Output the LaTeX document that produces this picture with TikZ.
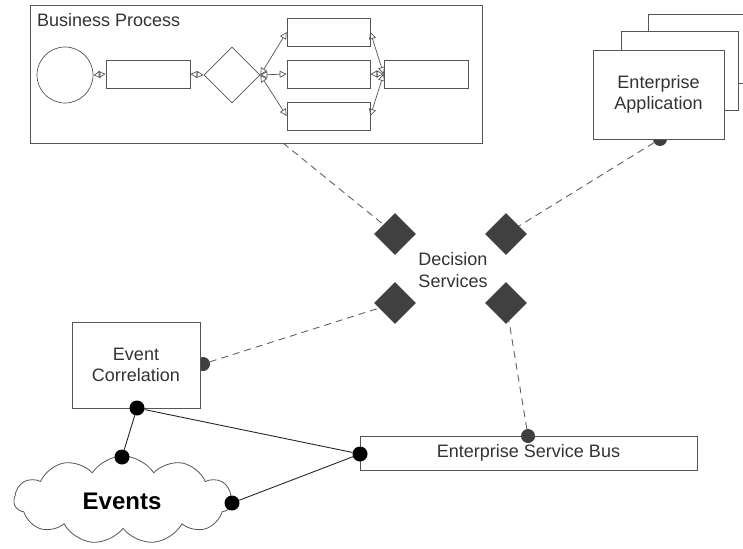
\documentclass[tikz,border=0pt]{standalone}
\usepackage{fontspec}
\setmainfont{Liberation Sans}
\usetikzlibrary{shapes.geometric,shapes.symbols,arrows.meta}

\definecolor{edge}{HTML}{555555}
\definecolor{ink}{HTML}{333333}
\definecolor{knob}{HTML}{404040}

\tikzset{
  box/.style={draw=edge, line width=0.9pt, fill=white, inner sep=0pt, text=ink},
  small/.style={box, line width=0.7pt, minimum width=#1, minimum height=28pt},
  label/.style={text=ink, font=\fontsize{18}{21.5}\selectfont, align=center, inner sep=0pt},
  flow/.style={draw=edge, line width=0.7pt,
    {Triangle[open,length=7pt,width=7pt]}-{Triangle[open,length=7pt,width=7pt]}},
  decision/.style={diamond, fill=knob, inner sep=0pt, minimum width=42pt, minimum height=42pt},
  link/.style={draw=gray!75!black, line width=0.9pt, dash pattern=on 7pt off 5pt},
  wire/.style={draw=black!85, line width=0.9pt},
  bdot/.style={circle, fill=black, inner sep=0pt, minimum size=15pt},
  gdot/.style={circle, fill=knob, inner sep=0pt, minimum size=14pt},
}

\begin{document}
\begin{tikzpicture}[x=1pt, y=-1pt]
\useasboundingbox (0,0) rectangle (743,548);

% ---- business process frame and its flow ----
\node[box, minimum width=452pt, minimum height=138pt] (bp) at (256,74) {};
\node[label, anchor=base west] (bptitle) at (37,27) {Business Process};
\node[circle, draw=edge, line width=0.7pt, inner sep=0pt, minimum size=56pt] (start) at (65,75) {};
\node[small=84pt] (task1) at (148,74) {};
\node[diamond, draw=edge, line width=0.7pt, inner sep=0pt, minimum width=56pt, minimum height=56pt] (gate) at (232,75) {};
\node[small=83pt] (ta) at (328.5,32) {};
\node[small=83pt] (tb) at (328.5,74) {};
\node[small=83pt] (tc) at (328.5,116) {};
\node[small=84pt] (join) at (426,74) {};

\draw[flow] (start.east) -- (task1.west);
\draw[flow] (task1.east) -- (gate.west);
\draw[flow] (gate.east) -- (ta.west);
\draw[flow] (gate.east) -- (tb.west);
\draw[flow] (gate.east) -- (tc.west);
\draw[flow] (ta.east) -- (join.west);
\draw[flow] (tb.east) -- (join.west);
\draw[flow] (tc.east) -- (join.west);

% ---- decision services ----
\node[decision] (d1) at (395,234) {};
\node[decision] (d2) at (506,234) {};
\node[decision] (d3) at (395,303) {};
\node[decision] (d4) at (506,303) {};
\node[label] (ds) at (453,270) {Decision\\Services};

% ---- dashed service links ----
\coordinate (bpout) at (283,143);
\node[gdot] (eadot) at (660,139) {};
\node[gdot] (ecgdot) at (203,364) {};
\draw[link] (bpout) -- (d1);
\draw[link] (eadot) -- (d2);
\draw[link] (ecgdot) -- (d3);

% ---- enterprise application stack ----
\node[box, minimum width=105pt, minimum height=69pt] (ea3) at (700.5,48.5) {};
\node[box, minimum width=117pt, minimum height=79pt] (ea2) at (679.5,71) {};
\node[box, minimum width=131pt, minimum height=89pt, label] (ea) at (658.5,94.5) {Enterprise\\Application};

% ---- event correlation and the bus ----
\node[box, minimum width=128pt, minimum height=86pt, label] (ec) at (136,365) {Event\\Correlation};
\node[box, minimum width=337pt, minimum height=34pt, label] (esb) at (528.5,453) {Enterprise Service Bus};
\node[gdot] (esbdot) at (528,436) {};
\draw[link] (esbdot) -- (d4);

% ---- events cloud ----
\node[cloud, cloud puffs=11, cloud puff arc=115, draw=edge, line width=0.8pt, fill=white,
      inner sep=0pt, minimum width=218pt, minimum height=88pt] (events) at (123,500) {};
\node[text=black, font=\bfseries\fontsize{24}{28}\selectfont, inner sep=0pt] (evlabel) at (122,501) {Events};

% ---- solid event wiring ----
\node[bdot] (ecbot) at (137,408) {};
\node[bdot] (evtop) at (122,457) {};
\node[bdot] (evright) at (232,503) {};
\node[bdot] (esbleft) at (360,454) {};
\draw[wire] (ecbot) -- (evtop);
\draw[wire] (ecbot) -- (esbleft);
\draw[wire] (evright) -- (esbleft);
\end{tikzpicture}
\end{document}
